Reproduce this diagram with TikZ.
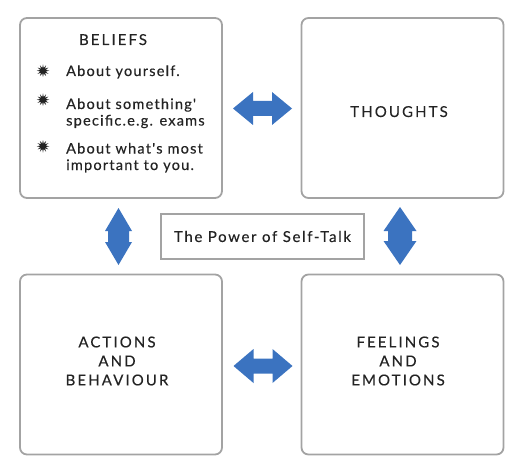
\documentclass[tikz,border=0pt]{standalone}
\usepackage{fontspec}
\setmainfont{Lato}
\newfontfamily\ttlfont[LetterSpace=14, FakeBold=0.3]{Lato}
\newfontfamily\txtfont[LetterSpace=8.5, FakeBold=0.3]{Lato}
\newfontfamily\pwrfont[LetterSpace=11, FakeBold=0.3]{Lato}
\usetikzlibrary{shapes.geometric,positioning}

\definecolor{edgegray}{HTML}{A3A3A3}
\definecolor{arrblue}{HTML}{3B73C0}
\definecolor{inkdark}{HTML}{232323}

% filled two-headed block arrow: centre x, centre y, half length, head length, half head, half shaft, angle
\newcommand{\blockarr}[7]{%
  \begin{scope}[shift={(#1,#2)}, rotate=#7]
    \fill[arrblue] (-#3,0) -- (-#3+#4,-#5) -- (-#3+#4,-#6) -- (#3-#4,-#6) -- (#3-#4,-#5)
      -- (#3,0) -- (#3-#4,#5) -- (#3-#4,#6) -- (-#3+#4,#6) -- (-#3+#4,#5) -- cycle;
  \end{scope}}

\begin{document}
\begin{tikzpicture}[x=1pt, y=-1pt,
    pnl/.style={draw=edgegray, line width=1.8pt, rounded corners=7pt, minimum width=202pt, minimum height=180pt, inner sep=0pt},
    ttl/.style={font={\ttlfont\fontsize{15}{19}\selectfont}, text=inkdark, align=center, inner sep=0pt},
    txt/.style={font={\txtfont\fontsize{14.5}{16.5}\selectfont}, text=inkdark, align=left, inner sep=0pt, anchor=base west},
    blt/.style={star, star points=12, star point ratio=2.2, minimum size=12.5pt, inner sep=0pt, fill=inkdark}
]
\useasboundingbox (0,0) rectangle (526,473);

% four panels
\node[pnl] (blf) at (121,108) {};
\node[pnl] (thg) at (402.5,108) {};
\node[pnl] (act) at (121,364.5) {};
\node[pnl] (fee) at (402.5,364.5) {};

% centre label
\node[draw=edgegray, line width=1.5pt, minimum width=203pt, minimum height=45pt, inner sep=0pt,
      font={\pwrfont\fontsize{15}{16}\selectfont}, text=inkdark] (pwr) at (262.5,236.5) {The Power of Self-Talk};

% beliefs panel
\node[ttl, anchor=base] (blfttl) at (113,45) {BELIEFS};
\node[blt] (b1) at (43,70.7) {};
\node[blt] (b2) at (43,99.7) {};
\node[blt] (b3) at (43,146.3) {};
\node[txt] (t1) at (66,76) {About yourself.};
\node[txt] (t2) at (66,125.5) {About something'\\specific.e.g. exams};
\node[txt] (t3) at (66,170) {About what's most\\important to you.};

% other panels
\node[ttl, anchor=base] (thgttl) at (399,117) {THOUGHTS};
\node[ttl] (actttl) at (117,361) {ACTIONS\\AND\\BEHAVIOUR};
\node[ttl] (feettl) at (398,361) {FEELINGS\\AND\\EMOTIONS};

% block arrows
\blockarr{262.5}{108.5}{29.5}{20}{16.5}{7.5}{0}
\blockarr{263}{366}{29.5}{20}{17}{7.5}{0}
\blockarr{118.5}{236.5}{28.5}{23}{13.5}{10.5}{90}
\blockarr{400}{236}{29}{24}{16.5}{12}{90}
\end{tikzpicture}
\end{document}
